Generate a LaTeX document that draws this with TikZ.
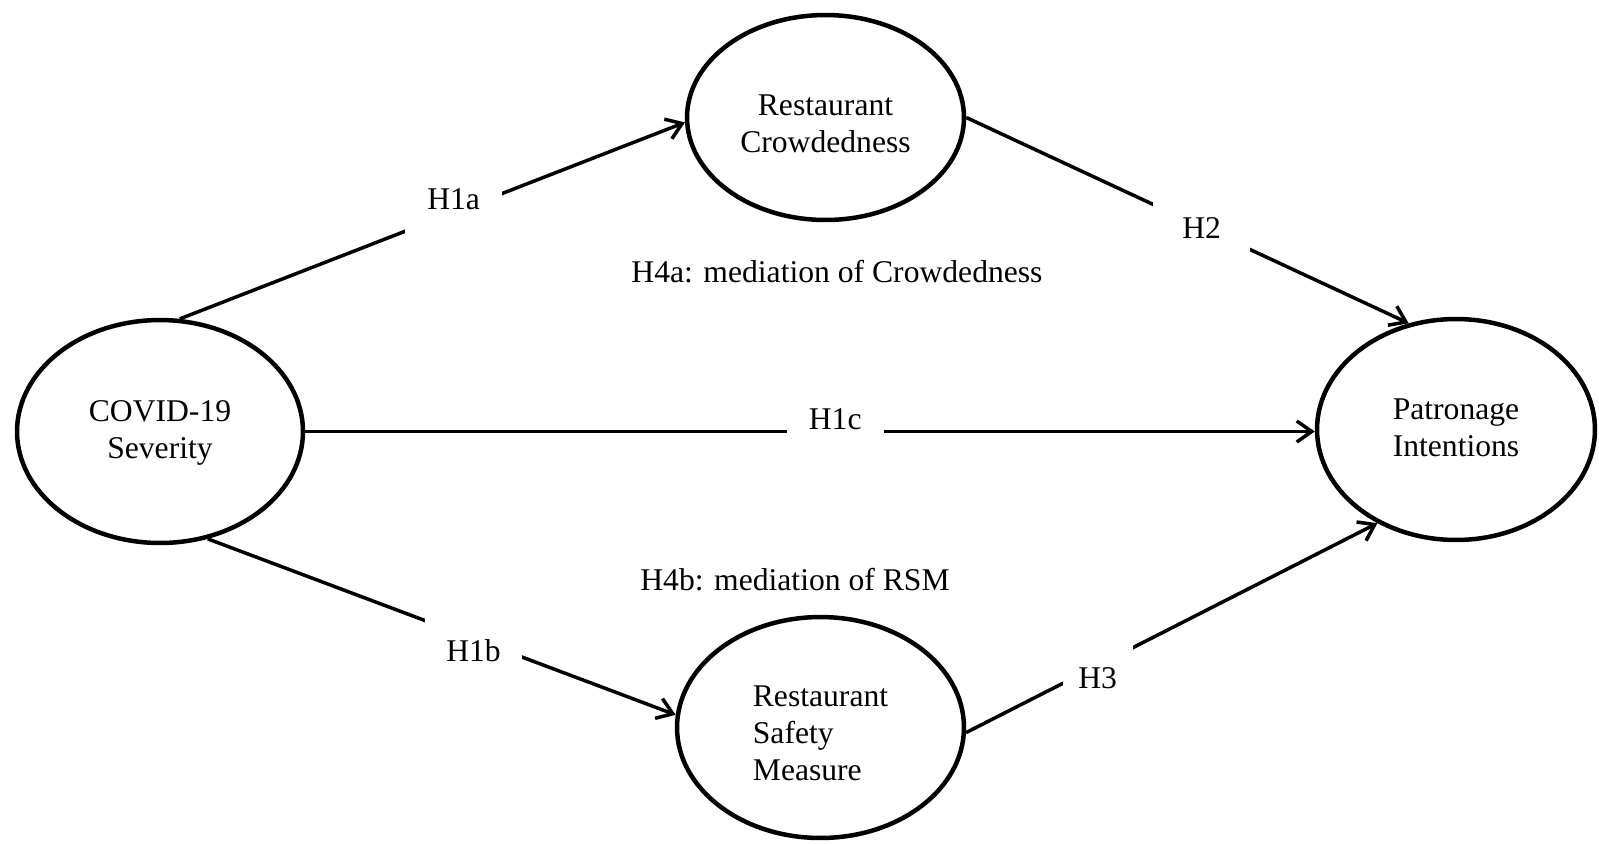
\documentclass[tikz,border=0pt]{standalone}
\usepackage{fontspec}
\setmainfont{Liberation Serif}
\usetikzlibrary{arrows.meta,shapes.geometric}

\begin{document}
\begin{tikzpicture}[x=0.02cm, y=-0.02cm,
    font=\fontsize{18}{21}\selectfont,
    construct/.style={draw, ellipse, line width=0.09cm, inner sep=0pt, align=center, text depth=0.2cm},
    link/.style={line width=0.07cm, -{Straight Barb[length=0.3cm, width=0.42cm]}},
    hyp/.style={fill=white, inner sep=0.1cm, minimum width=1.94cm},
    hypup/.style={hyp, text height=0.42cm, text depth=0.52cm},
    hypdown/.style={hyp, text height=0.92cm, text depth=0.02cm}]
        \useasboundingbox (0,0) rectangle (1599,843);

        % Constructs
        \node[construct, minimum width=5.72cm, minimum height=4.46cm, text height=1.26cm] (cov) at (160,431.5) {COVID-19\\Severity};
        \node[construct, minimum width=5.54cm, minimum height=4.10cm, text height=1.58cm] (crd) at (825.5,117.5) {Restaurant\\Crowdedness};
        \node[construct, minimum width=5.56cm, minimum height=4.42cm, text height=1.26cm] (pat) at (1456,429.5) {Patronage\\Intentions};
        \node[construct, minimum width=5.74cm, minimum height=4.42cm, text height=2.3cm, align=left] (rsm) at (820.5,727.5) {Restaurant\\Safety\\Measure};

        % Hypotheses
        \draw[link] (cov.80) -- node[hypup, pos=0.542] (h1a) {H1a} (crd.182);
        \draw[link] (cov.294) -- node[hypdown, pos=0.568] (h1b) {H1b} (rsm.175);
        \draw[link] (cov.east) -- node[hypup, pos=0.525] (h1c) {H1c} (cov.east -| pat.west);
        \draw[link] (crd.east) -- node[hyp, pos=0.532, text height=0.70cm, text depth=0.24cm] (h2) {H2} (pat.114.5);
        \draw[link] (rsm.358) -- node[hypdown, pos=0.32, minimum width=1.4cm] (h3) {H3} (pat.230.6);

        % Mediation
        \node[anchor=base] (h4a) at (837,282) {H4a: mediation of Crowdedness};
        \node[anchor=base] (h4b) at (795,590) {H4b: mediation of RSM};
    \end{tikzpicture}
\end{document}
